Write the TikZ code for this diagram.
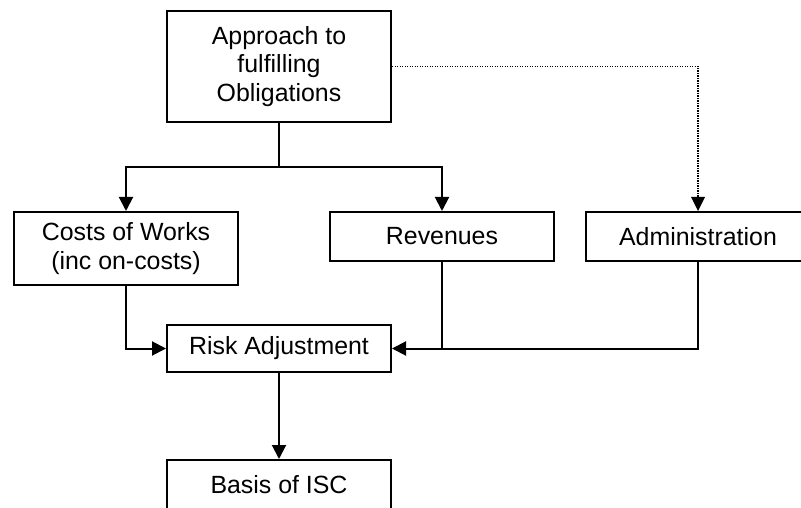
\documentclass[tikz,border=0pt]{standalone}
\usepackage{fontspec}
\setmainfont{Liberation Sans}
\usetikzlibrary{arrows.meta}
\begin{document}
\begin{tikzpicture}[x=1pt,y=-1pt,
  box/.style={draw,line width=2pt,minimum width=224pt,align=center,inner sep=0pt,
    font=\fontsize{24.9}{28.5}\selectfont},
  conn/.style={line width=2pt},
  arr/.style={conn,-{Triangle[width=14pt,length=14pt]}},
  dotline/.style={line width=1.3pt,dash pattern=on 1.2pt off 1.3pt,-{Triangle[width=14pt,length=14pt,line width=0pt]}}]
\useasboundingbox (0,0) rectangle (801,508);
\clip (0,0) rectangle (801,508);
\node[box,minimum height=111pt] (top) at (279,66.5) {Approach to\\fulfilling\\Obligations};
\node[box,minimum height=73pt] (costs) at (126,248.5) {Costs of Works\\(inc on-costs)};
\node[box,minimum height=49pt] (rev) at (442,236.5) {Revenues};
\node[box,minimum height=49pt] (admin) at (698,236.5) {Administration};
\node[box,minimum height=47pt] (risk) at (279,348.5) {Risk Adjustment};
\node[box,minimum height=50pt] (basis) at (279,485) {Basis of ISC};
\coordinate (split) at (279,167);
\draw[conn] (top.south) -- (split);
\draw[arr] (split) -| (costs.north);
\draw[arr] (split) -| (rev.north);
\draw[dotline] (top.east) -| (admin.north);
\draw[arr] (costs.south) |- (risk.west);
\draw[arr] (rev.south) |- (risk.east);
\draw[conn] (admin.south) |- (rev.south |- risk.east);
\draw[arr] (risk.south) -- (basis.north);
\end{tikzpicture}
\end{document}
